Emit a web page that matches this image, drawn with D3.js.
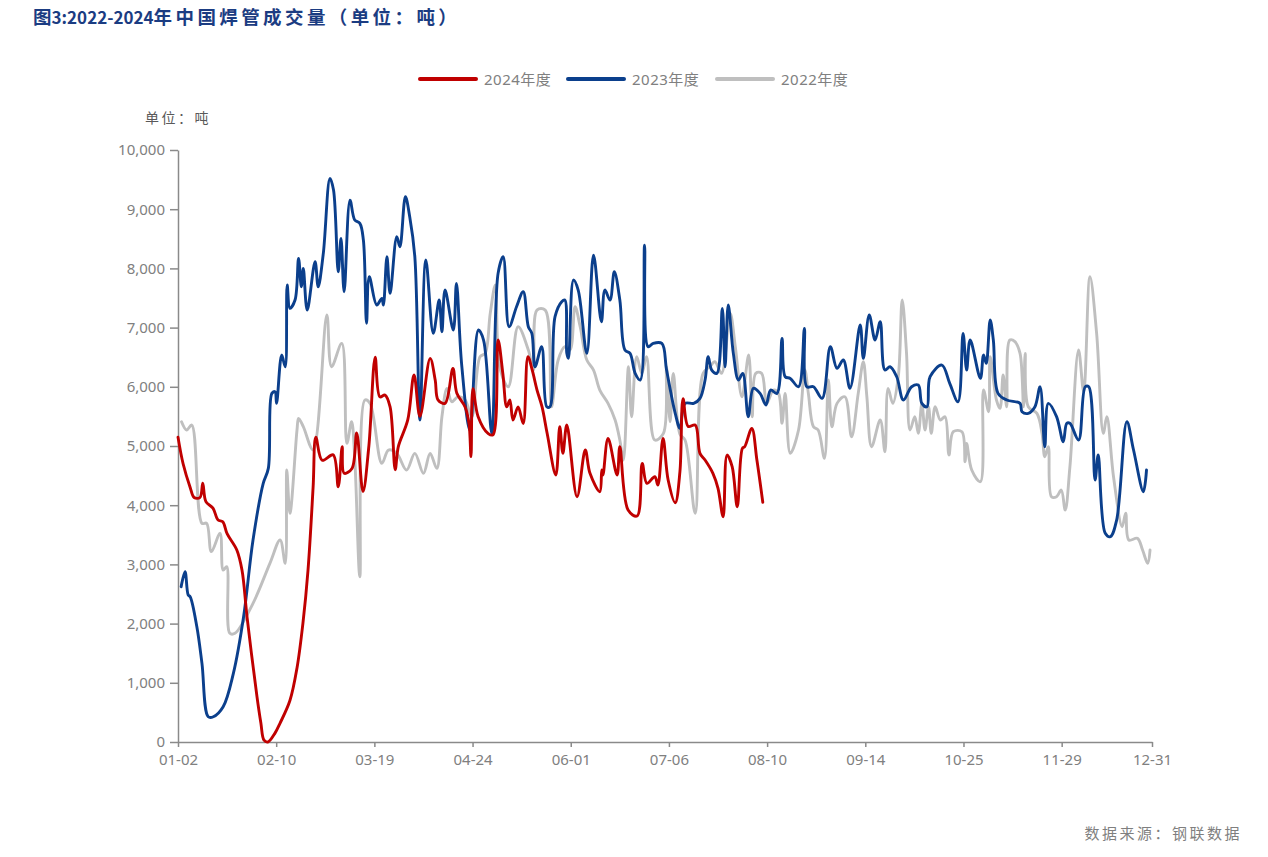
<!DOCTYPE html>
<html><head><meta charset="utf-8">
<script src="https://cdn.jsdelivr.net/npm/d3@7"></script>
<style>
html,body{margin:0;padding:0;background:#fff;}
svg{display:block;}
</style></head>
<body>
<svg id="c" width="1268" height="857"></svg>
<script>
// ---- data ----
const xTickLabels = ["01-02","02-10","03-19","04-24","06-01","07-06","08-10","09-14","10-25","11-29","12-31"];
const xTickDays   = [0,25,50,75,100,125,150,175,200,225,248];
const yTicks = [0,1000,2000,3000,4000,5000,6000,7000,8000,9000,10000];
const seriesNames = ["2024年度","2023年度","2022年度"];

// [trading-day index, tons]
const s2024 = [[0,5150],[1.3,4700],[3.1,4300],[4.1,4130],[5.6,4130],[6.3,4370],[7.1,4060],[8.9,3950],[10.2,3750],[11.4,3720],[12.5,3520],[15.0,3240],[16.3,2900],[17.6,2100],[20.1,770],[21.1,320],[21.9,30],[22.9,0],[24.7,150],[26.0,320],[28.5,700],[30.3,1250],[31.8,2000],[33.1,2900],[34.4,4300],[35.1,5150],[36.7,4760],[39.5,4850],[40.8,4310],[41.8,4990],[42.3,4540],[44.3,4620],[45.5,5220],[47.1,4230],[48.6,5000],[50.2,6500],[51.4,5830],[52.7,5860],[54.0,5660],[55.3,4600],[56.1,4990],[58.5,5440],[60.1,6200],[61.6,5500],[64.2,6480],[65.5,6110],[66.2,5780],[68.0,5720],[70.0,6310],[71.0,5890],[73.1,5660],[74.1,5380],[74.6,4820],[75.1,5970],[76.4,5500],[79.0,5210],[80.2,5190],[81.5,6790],[82.7,6230],[83.7,5660],[84.5,5780],[85.3,5440],[86.6,5660],[87.9,5380],[89.1,6510],[90.2,6280],[91.4,5950],[92.7,5660],[94.0,5210],[96.2,4510],[97.2,5325],[98.0,4876],[99.0,5354],[101.6,4143],[103.7,4932],[104.9,4538],[107.4,4228],[107.9,4594],[108.2,4510],[109.5,5129],[111.8,4510],[112.5,4988],[114.6,3918],[116.9,3817],[118.2,4707],[119.4,4369],[121.4,4481],[122.2,4341],[123.5,5129],[124.8,4425],[126.6,4042],[127.8,4566],[128.6,5800],[129.9,5330],[131.7,5354],[132.9,4876],[134.2,4763],[136.2,4538],[137.5,4285],[138.8,3805],[139.8,4847],[141.1,4650],[142.4,3974],[143.7,4960],[144.3,4988],[146.1,5298],[147.4,4763],[148.9,4050]];

const s2023 = [[0.8,2623],[1.8,2876],[2.6,2483],[3.1,2454],[4.8,1947],[6.1,1329],[7.7,427],[9.0,427],[11.5,596],[14.1,1160],[16.7,2116],[19.1,3412],[21.7,4369],[23.0,4622],[23.9,5889],[24.7,5917],[25.1,5720],[26.4,6536],[27.3,6339],[27.8,7719],[28.5,7325],[29.8,7465],[30.7,8170],[31.4,7690],[31.9,8001],[32.9,7296],[34.9,8113],[35.7,7690],[37.0,8254],[38.7,9521],[39.6,9323],[40.8,7943],[41.5,8507],[42.3,7606],[43.8,9154],[45.0,8817],[46.3,8761],[47.2,8479],[48.0,7072],[48.7,7859],[50.6,7381],[51.9,7494],[52.3,7381],[53.2,8197],[54.0,7578],[55.7,8535],[56.5,8366],[57.9,9210],[59.0,8873],[60.3,8197],[61.6,5439],[63.1,8141],[65.0,6903],[66.5,7465],[67.2,6930],[68.0,7634],[70.1,6959],[70.9,7747],[72.2,6396],[74.3,5270],[76.5,6959],[77.8,6790],[79.9,5214],[81.5,7916],[82.8,8197],[84.3,7015],[86.2,7353],[87.9,7606],[89.2,7015],[90.1,6903],[90.9,6339],[92.6,6677],[93.9,5663],[94.7,5663],[96.0,7184],[97.7,7437],[98.5,7465],[99.0,6565],[99.4,6480],[100.7,7803],[101.9,7634],[104.1,6565],[105.8,8225],[107.8,7099],[108.7,7634],[110.0,7465],[111.1,7943],[112.5,7465],[113.8,6621],[115.1,6565],[116.4,6227],[117.7,6114],[118.8,8394],[119.7,6677],[121.0,6733],[123.2,6733],[124.4,6283],[126.6,5551],[127.8,5298],[129.1,5720],[131.3,5720],[132.9,5805],[134.2,6114],[135.0,6508],[135.9,6283],[137.2,6227],[138.6,7325],[139.3,6339],[140.1,7381],[141.4,6565],[142.7,6114],[143.8,6227],[145.2,5495],[146.5,5974],[148.2,5889],[149.7,5692],[150.9,5945],[152.5,5889],[153.8,6818],[154.6,6170],[155.9,6142],[158.0,6001],[159.5,6987],[160.1,6001],[161.8,6001],[164.0,5805],[166.1,6677],[167.8,6311],[169.4,6452],[171.1,5974],[173.7,7043],[174.5,6480],[176.0,7212],[177.5,6790],[178.8,7099],[180.0,6283],[181.3,6339],[183.0,6170],[184.7,5777],[186.8,6001],[188.5,6029],[189.4,5720],[190.7,5663],[191.5,6170],[194.5,6367],[196.5,6058],[198.6,5748],[199.9,6903],[200.8,6283],[201.7,6790],[204.3,6142],[205.1,6536],[205.8,6396],[206.8,7128],[207.6,6790],[208.8,5889],[211.0,5777],[214.4,5720],[214.9,5579],[216.5,5551],[218.2,5663],[219.5,6001],[220.7,4988],[221.6,5720],[223.7,5495],[225.4,5073],[226.3,5383],[227.1,5383],[229.3,5101],[231.0,6001],[231.9,6001],[233.5,4425],[234.3,4847],[236.1,3525],[237.4,3468],[239.0,3750],[241.6,5410],[243.3,4932],[245.8,4228],[246.6,4594]];

const s2022 = [[0.9,5410],[2.2,5270],[3.5,5354],[6.1,3694],[7.3,3694],[8.5,3215],[10.7,3525],[11.5,2905],[12.4,2961],[13.2,1836],[14.5,1836],[19.1,2343],[23.4,3018],[26.0,3412],[27.3,3018],[27.7,4594],[28.5,3863],[30.3,5270],[30.7,5467],[31.9,5326],[34.4,4932],[37.9,7212],[39.1,6339],[41.7,6733],[43.0,5045],[44.2,5410],[45.0,4800],[46.3,2792],[47.6,5777],[48.9,5720],[51.9,4707],[53.6,4932],[55.7,4876],[58.2,4594],[60.3,4876],[62.5,4538],[64.2,4876],[65.9,4622],[67.2,5495],[68.5,5974],[69.7,5748],[71.3,5832],[73.1,5777],[74.8,5495],[76.9,6508],[78.2,6565],[79.5,7240],[80.8,7719],[81.9,6339],[84.1,6001],[86.6,7015],[89.2,6621],[90.5,6283],[91.4,7296],[93.5,7296],[95.1,5663],[96.8,6452],[98.5,6677],[99.8,6621],[101.1,7353],[102.4,7015],[104.1,6452],[105.8,6283],[107.4,5945],[109.5,5720],[111.3,5439],[112.5,5101],[113.4,4763],[114.7,6339],[115.5,5495],[116.8,6508],[118.1,6227],[119.3,6508],[121.4,5101],[123.6,5214],[124.4,6339],[125.3,5410],[126.1,6227],[127.8,5200],[129.1,5101],[131.7,3863],[133.7,6227],[135.4,6339],[136.7,6424],[138.4,6227],[140.6,7240],[141.9,6677],[143.6,5832],[145.3,6536],[146.2,5495],[147.1,6227],[148.6,6227],[149.9,5720],[151.6,5945],[152.9,5889],[153.8,5383],[154.6,5889],[155.9,4876],[158.0,5270],[159.6,6283],[160.5,5889],[161.8,5326],[163.0,5270],[164.6,4791],[165.6,6114],[166.5,5326],[167.8,5720],[169.8,5832],[171.5,5157],[173.2,5889],[174.5,6424],[175.4,5832],[176.6,4988],[178.8,5439],[180.0,4904],[180.8,5974],[182.0,5720],[183.4,6170],[184.4,7465],[185.5,6565],[186.4,5270],[187.6,5495],[188.5,5214],[189.4,5720],[190.2,5270],[191.1,5663],[191.8,5214],[192.8,5663],[194.1,5439],[195.3,5495],[196.3,4847],[197.4,5241],[199.6,5241],[200.4,4735],[200.8,5045],[202.1,4594],[204.3,4397],[205.1,5945],[206.4,5579],[206.8,6508],[208.4,5777],[209.3,5636],[210.1,6199],[211.0,5663],[211.8,6790],[213.1,6762],[214.4,6565],[215.3,5663],[215.7,6565],[216.5,5663],[218.7,5551],[220.0,5214],[220.7,4819],[221.6,4988],[222.4,4143],[223.7,4143],[224.9,4256],[225.9,3918],[227.1,4650],[229.3,6621],[230.6,5917],[232.2,7859],[233.9,6903],[235.6,5214],[236.5,5495],[238.2,4481],[240.4,3637],[241.3,3863],[242.1,3412],[244.3,3440],[245.6,3243],[246.9,3018],[247.5,3243]];

const seriesData = [s2024, s2023, s2022];
const colors = ["#C00000","#0B3F8C","#BFBFBF"];

// ---- chart ----
const svg = d3.select("#c");
const x = d3.scaleLinear().domain([0,248]).range([178,1152]);
const y = d3.scaleLinear().domain([0,10000]).range([742,150]);
const axisColor = "#8a8a8a", labelColor = "#808080";
const font = "'Noto Sans','Noto Sans CJK SC',sans-serif";

// title
const t = svg.append("text").attr("x",33).attr("y",24)
  .attr("font-family","'Noto Sans CJK SC',sans-serif").attr("font-weight","bold")
  .attr("font-size",17).attr("fill","#1B3C82");
t.append("tspan").attr("font-size",18.5).style("letter-spacing","0px").text("图");
t.append("tspan").style("letter-spacing","0px").text("3:2022-2024");
t.append("tspan").attr("font-size",18.5).style("letter-spacing","3.4px").text("年中国焊管成交量（单位：吨）");

// unit label
svg.append("text").attr("x",145).attr("y",123).attr("font-family","'Noto Sans CJK SC',sans-serif")
  .attr("font-size",14).attr("fill","#595959").style("letter-spacing","2.5px").text("单位：吨");

// source
svg.append("text").attr("x",1242).attr("y",839).attr("text-anchor","end")
  .attr("font-family","'Noto Sans CJK SC',sans-serif").attr("font-size",15)
  .attr("fill","#7f7f7f").style("letter-spacing","2.5px").text("数据来源：钢联数据");

// y axis
const yAxis = svg.append("g").attr("transform","translate(178,0)")
  .call(d3.axisLeft(y).tickValues(yTicks).tickSize(8).tickSizeOuter(0).tickPadding(5)
    .tickFormat(d3.format(",")));
yAxis.select(".domain").attr("stroke",axisColor).attr("stroke-width",1.5);
yAxis.selectAll(".tick line").attr("stroke",axisColor).attr("stroke-width",1.5);
yAxis.selectAll(".tick text").attr("fill",labelColor).attr("font-size",15).attr("font-family",font);

// x axis
const xAxis = svg.append("g").attr("transform","translate(0,742)")
  .call(d3.axisBottom(x).tickValues(xTickDays).tickSize(5).tickSizeOuter(0).tickPadding(7)
    .tickFormat((d,i)=>xTickLabels[i]));
xAxis.select(".domain").attr("stroke",axisColor).attr("stroke-width",1.5);
xAxis.selectAll(".tick line").attr("stroke",axisColor).attr("stroke-width",1.5);
xAxis.selectAll(".tick text").attr("fill",labelColor).attr("font-size",15).attr("font-family",font);

// lines
const line = d3.line().x(d=>x(d[0])).y(d=>y(d[1])).curve(d3.curveCatmullRom.alpha(0.5));
[2,1,0].forEach(i=>{
  svg.append("path").datum(seriesData[i]).attr("d",line).attr("fill","none")
    .attr("stroke",colors[i]).attr("stroke-width",2.9).attr("stroke-linejoin","round").attr("stroke-linecap","round");
});

// legend
const legX = [420,568,717];
seriesNames.forEach((n,i)=>{
  const g = svg.append("g").attr("transform",`translate(${legX[i]},79)`);
  g.append("line").attr("x1",0).attr("x2",56).attr("y1",0).attr("y2",0)
    .attr("stroke",colors[i]).attr("stroke-width",4).attr("stroke-linecap","round");
  g.append("text").attr("x",64).attr("y",5.5).attr("font-family",font).attr("font-size",15)
    .attr("fill",labelColor).style("letter-spacing","0.5px").text(n);
});
</script>
</body></html>
